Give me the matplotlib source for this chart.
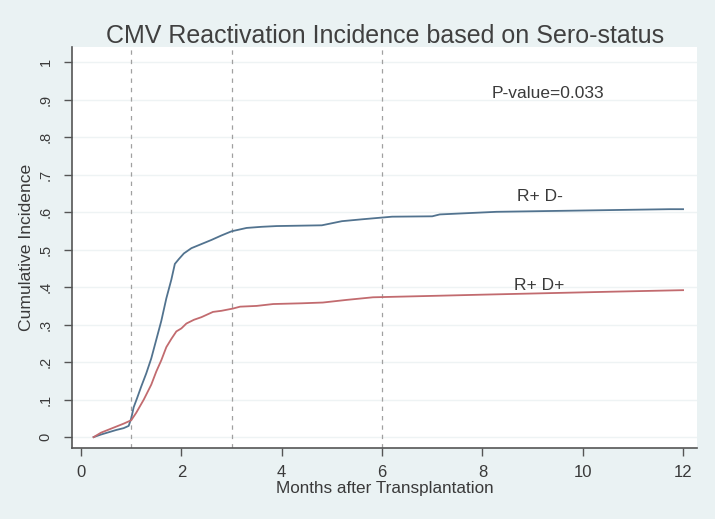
import matplotlib
matplotlib.use("Agg")
import matplotlib.pyplot as plt

plt.rcParams['font.family'] = ['Liberation Sans', 'DejaVu Sans']

# Data
dneg_x = [0.25, 0.4, 0.55, 0.7, 0.85, 0.95, 1.0, 1.05, 1.12, 1.2, 1.3, 1.4, 1.5,
          1.6, 1.7, 1.8, 1.87, 1.95, 2.05, 2.2, 2.4, 2.6, 2.8, 3.0, 3.3, 3.6,
          3.9, 4.8, 5.2, 5.6, 6.2, 7.0, 7.15, 8.28, 11.73, 12.0]
dneg_y = [0.0, 0.007, 0.013, 0.019, 0.024, 0.03, 0.05, 0.08, 0.105, 0.135, 0.17,
          0.21, 0.26, 0.31, 0.37, 0.42, 0.462, 0.475, 0.49, 0.504, 0.515, 0.526,
          0.538, 0.549, 0.558, 0.561, 0.563, 0.565, 0.576, 0.581, 0.588, 0.589,
          0.594, 0.601, 0.608, 0.608]

dpos_x = [0.25, 0.4, 0.55, 0.7, 0.85, 1.0, 1.1, 1.25, 1.4, 1.5, 1.6, 1.7, 1.8,
          1.9, 2.0, 2.1, 2.25, 2.4, 2.63, 2.8, 3.03, 3.17, 3.5, 3.83, 4.4, 4.82,
          5.29, 5.82, 7.08, 8.0, 10.6, 12.0]
dpos_y = [0.0, 0.012, 0.02, 0.028, 0.036, 0.045, 0.065, 0.1, 0.14, 0.175, 0.205,
          0.24, 0.262, 0.282, 0.29, 0.303, 0.313, 0.32, 0.334, 0.337, 0.343,
          0.348, 0.35, 0.355, 0.357, 0.359, 0.366, 0.373, 0.377, 0.38, 0.388,
          0.392]

x_ticks = [0, 2, 4, 6, 8, 10, 12]
y_ticks = [0, 0.1, 0.2, 0.3, 0.4, 0.5, 0.6, 0.7, 0.8, 0.9, 1.0]
y_tick_labels = ["0", ".1", ".2", ".3", ".4", ".5", ".6", ".7", ".8", ".9", "1"]
ref_lines = [1, 3, 6]

bg = '#eaf2f3'
txt = '#3a3a3a'

fig = plt.figure(figsize=(7.15, 5.19), dpi=100, facecolor=bg)
ax = fig.add_axes([0.1007, 0.1368, 0.8743, 0.7722])
ax.set_facecolor('white')

for yv in y_ticks:
    ax.axhline(yv, color='#eef3f4', lw=1.0, zorder=0)
for xv in ref_lines:
    ax.axvline(xv, color='#a0a0a0', lw=0.9, ls=(0, (3.5, 4)), zorder=1)

ax.plot(dneg_x, dneg_y, color='#52738f', lw=1.3, zorder=3)
ax.plot(dpos_x, dpos_y, color='#c26b6f', lw=1.3, zorder=3)

ax.set_xlim(-0.18, 12.28)
ax.set_ylim(-0.029, 1.04)

ax.set_xticks(x_ticks)
ax.set_xticklabels([str(v) for v in x_ticks], fontsize=12, color=txt)
ax.set_yticks(y_ticks)
ax.set_yticklabels(y_tick_labels, fontsize=10.5, color=txt, rotation=90, va='center')
ax.tick_params(axis='both', direction='out', length=6, width=1.0, color='#555555')
ax.tick_params(axis='x', pad=6)
ax.tick_params(axis='y', pad=8)

for s in ['top', 'right']:
    ax.spines[s].set_visible(False)
for s in ['left', 'bottom']:
    ax.spines[s].set_color('#555555')
    ax.spines[s].set_linewidth(1.2)

ax.set_xlabel('Months after Transplantation', fontsize=12.3, color=txt, labelpad=1)
ax.set_ylabel('Cumulative Incidence', fontsize=12.6, color=txt, labelpad=3)

fig.text(0.538, 0.931, 'CMV Reactivation Incidence based on Sero-status',
         fontsize=18, color='#404040', ha='center', va='center')

ax.text(9.3, 0.917, 'P-value=0.033', fontsize=12.5, color=txt, ha='center', va='center')
ax.text(9.14, 0.643, 'R+ D-', fontsize=12.5, color=txt, ha='center', va='center')
ax.text(9.14, 0.405, 'R+ D+', fontsize=12.5, color=txt, ha='center', va='center')

fig.savefig('out.png', dpi=100, facecolor=bg)
